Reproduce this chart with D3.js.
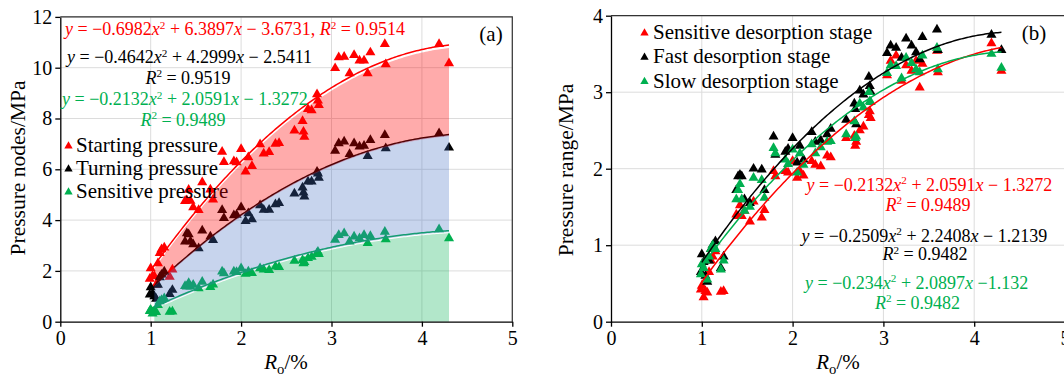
<!DOCTYPE html>
<html>
<head>
<meta charset="utf-8">
<script src="https://cdn.jsdelivr.net/npm/d3@7"></script>
<style>
  body { margin: 0; background: #fff; }
  svg { display: block; font-family: "Liberation Serif", "Times New Roman", serif; }
  text { white-space: pre; }
  .grid line { stroke: #dcdcdc; stroke-width: 1; }
  .axis text { font-size: 20px; fill: #000; }
  .axis line, .axis path { stroke: #000; stroke-width: 1.3; }
</style>
</head>
<body>
<svg id="chart" width="1064" height="376"></svg>
<script>
// vitrinite reflectance of each sample (shared by every series)
const ro = [0.99, 1.00, 1.02, 1.04, 1.06, 1.08, 1.10, 1.12, 1.15, 1.21, 1.24,
  1.38, 1.40, 1.42, 1.44, 1.47, 1.53, 1.57, 1.66, 1.69,
  1.79, 1.81, 1.92, 1.95, 2.00, 2.05, 2.08, 2.12, 2.21, 2.25, 2.31, 2.38, 2.42,
  2.59, 2.68, 2.69, 2.70, 2.74, 2.78, 2.84, 2.85, 2.86,
  3.04, 3.08, 3.14, 3.20, 3.25, 3.31, 3.36, 3.40, 3.43, 3.59, 3.60,
  4.19, 4.30];

// panel (a)
const startingP = [1.69, 2.10, 1.80, 1.80, 1.45, 2.30, 2.70, 2.85, 2.92, 1.77, 2.05,
  4.75, 4.78, 5.19, 4.76, 4.50, 4.39, 5.49, 5.20, 4.81,
  6.69, 6.28, 6.31, 6.27, 6.80, 5.91, 6.47, 6.13, 6.98, 6.62, 6.68, 7.00, 7.03,
  7.52, 7.90, 7.48, 7.28, 8.37, 8.32, 8.95, 8.71, 8.53,
  9.98, 10.41, 10.43, 9.78, 10.50, 10.28, 10.28, 9.78, 10.60, 10.93, 10.13,
  10.93, 10.17];
const turningP = [1.07, 1.35, 1.10, 1.00, 0.90, 1.45, 1.75, 1.85, 1.97, 1.09, 1.25,
  3.15, 3.48, 3.44, 3.16, 3.05, 2.89, 3.59, 3.35, 3.21,
  4.39, 4.08, 4.19, 4.21, 4.50, 3.96, 4.27, 4.03, 4.58, 4.40, 4.40, 4.62, 4.67,
  5.04, 5.28, 5.08, 4.93, 5.52, 5.52, 5.90, 5.83, 5.66,
  6.73, 7.02, 7.09, 6.60, 7.02, 6.89, 6.92, 6.52, 7.15, 7.35, 6.83,
  7.42, 6.85];
const sensitiveP = [0.42, 0.47, 0.32, 0.40, 0.38, 0.65, 0.80, 0.85, 0.92, 0.39, 0.40,
  1.40, 1.38, 1.52, 1.38, 1.45, 1.31, 1.57, 1.36, 1.46,
  1.97, 1.90, 1.97, 1.95, 2.10, 1.88, 1.97, 1.91, 2.10, 2.05, 2.03, 2.17, 2.15,
  2.40, 2.43, 2.30, 2.35, 2.50, 2.55, 2.70, 2.75, 2.66,
  3.22, 3.41, 3.48, 3.15, 3.35, 3.28, 3.41, 3.09, 3.37, 3.54, 3.24,
  3.64, 3.28];

// panel (b)
const sensitiveStage = [0.42, 0.47, 0.32, 0.40, 0.38, 0.65, 0.80, 0.85, 0.92, 0.39, 0.40,
  1.40, 1.38, 1.52, 1.38, 1.45, 1.31, 1.57, 1.36, 1.46,
  1.97, 1.90, 1.97, 1.95, 2.10, 1.88, 1.97, 1.91, 2.10, 2.05, 2.03, 2.17, 2.15,
  2.40, 2.43, 2.30, 2.35, 2.50, 2.55, 2.70, 2.75, 2.66,
  3.22, 3.41, 3.48, 3.15, 3.35, 3.28, 3.41, 3.06, 3.37, 3.54, 3.26,
  3.64, 3.28];
const fastStage = [0.65, 0.88, 0.78, 0.60, 0.52, 0.80, 0.95, 1.00, 1.05, 0.70, 0.85,
  1.72, 1.90, 1.92, 1.90, 1.60, 1.55, 2.00, 1.99, 1.72,
  2.42, 2.18, 2.22, 2.26, 2.40, 2.08, 2.30, 2.12, 2.48, 2.35, 2.37, 2.45, 2.52,
  2.64, 2.85, 2.78, 2.58, 3.02, 2.97, 3.20, 3.08, 3.00,
  3.51, 3.61, 3.58, 3.45, 3.70, 3.61, 3.52, 3.43, 3.72, 3.82, 3.55,
  3.75, 3.55];
const slowStage = [0.62, 0.75, 0.70, 0.80, 0.55, 0.85, 0.95, 1.00, 0.95, 0.68, 0.80,
  1.60, 1.72, 1.80, 1.60, 1.45, 1.50, 1.88, 1.85, 1.62,
  2.27, 2.20, 2.12, 2.06, 2.25, 1.95, 2.20, 2.05, 2.32, 2.20, 2.28, 2.35, 2.36,
  2.45, 2.62, 2.40, 2.42, 2.85, 2.80, 3.00, 2.88, 2.87,
  3.25, 3.35, 3.34, 3.18, 3.45, 3.38, 3.30, 3.26, 3.48, 3.58, 3.30,
  3.50, 3.32];

// quadratic fits printed on the chart: [a, b, c] for y = a x^2 + b x + c
const fitStarting = [-0.6982, 6.3897, -3.6731];
const fitTurning = [-0.4642, 4.2999, -2.5411];
const fitSensitive = [-0.2132, 2.0591, -1.3272];
const fitFast = [-0.2509, 2.2408, -1.2139];
const fitSlow = [-0.234, 2.0897, -1.132];
const fitRange = [1.0, 4.3];

const RED = "#ff0000", BLACK = "#000000", GREEN = "#00b050";

const svg = d3.select("#chart");
const tri = d3.symbol(d3.symbolTriangle, 44);
const triSmall = d3.symbol(d3.symbolTriangle, 30);

const xs = d3.range(fitRange[0], fitRange[1] + 1e-9, 0.02);
const fitLine = (c) => xs.map(x => [x, c[0] * x * x + c[1] * x + c[2]]);

// text with *italic*, ^superscript^ and _subscript_ pieces
function rich(g, str, x, y, color, size, anchor) {
  const t = g.append("text")
    .attr("x", x).attr("y", y)
    .attr("fill", color)
    .attr("text-anchor", anchor || "start")
    .style("font-size", size + "px");
  let shift = 0;
  str.split(/(\*[^*]+\*|\^[^^]+\^|_[^_]+_)/).filter(s => s).forEach(p => {
    const ts = t.append("tspan");
    let s = 0;
    if (p[0] == "*") { ts.style("font-style", "italic"); p = p.slice(1, -1); }
    else if (p[0] == "^") { s = -0.36 * size; ts.style("font-size", (size * 0.62) + "px"); p = p.slice(1, -1); }
    else if (p[0] == "_") { s = 0.22 * size; ts.style("font-size", (size * 0.7) + "px"); p = p.slice(1, -1); }
    ts.attr("dy", s - shift).text(p);
    shift = s;
  });
  return t;
}

function frame(g, x, y, yTicks) {
  const [x0, x1] = x.range(), [y0, y1] = y.range();
  const grid = g.append("g").attr("class", "grid");
  grid.selectAll(".gx").data([1, 2, 3, 4, 5]).join("line")
    .attr("x1", d => x(d)).attr("x2", d => x(d)).attr("y1", y0).attr("y2", y1);
  grid.selectAll(".gy").data(yTicks.slice(1)).join("line")
    .attr("x1", x0).attr("x2", x1).attr("y1", d => y(d)).attr("y2", d => y(d));
  g.append("path")
    .attr("d", `M${x0},${y1}H${x1}V${y0}`)
    .attr("fill", "none").attr("stroke", "#333").attr("stroke-width", 1.2);
}

function axes(g, x, y, yTicks) {
  const ax = g.append("g").attr("class", "axis")
    .attr("transform", `translate(0,${y.range()[0]})`)
    .call(d3.axisBottom(x).tickValues([0, 1, 2, 3, 4, 5]).tickFormat(d3.format("d"))
      .tickSize(5).tickSizeOuter(0).tickPadding(4));
  const ay = g.append("g").attr("class", "axis")
    .attr("transform", `translate(${x.range()[0]},0)`)
    .call(d3.axisLeft(y).tickValues(yTicks).tickFormat(d3.format("d"))
      .tickSize(5).tickSizeOuter(0).tickPadding(3));
  [ax, ay].forEach(a => a.attr("font-size", null).attr("font-family", null));
}

function points(g, x, y, vals, color) {
  g.append("g").selectAll("path").data(vals).join("path")
    .attr("d", tri)
    .attr("transform", (d, i) => `translate(${x(ro[i])},${y(d)})`)
    .attr("fill", color);
}

// ---------- panel (a) ----------
const xa = d3.scaleLinear().domain([0, 5]).range([60.3, 512.3]);
const ya = d3.scaleLinear().domain([0, 12]).range([321.7, 16.9]);
const ga = svg.append("g");
frame(ga, xa, ya, [0, 2, 4, 6, 8, 10, 12]);

const lineA = d3.line().x(d => xa(d[0])).y(d => ya(d[1]));
ga.append("path").attr("d", lineA(fitLine(fitStarting))).attr("fill", "none").attr("stroke", RED).attr("stroke-width", 1.5);
ga.append("path").attr("d", lineA(fitLine(fitTurning))).attr("fill", "none").attr("stroke", BLACK).attr("stroke-width", 1.5);
ga.append("path").attr("d", lineA(fitLine(fitSensitive))).attr("fill", "none").attr("stroke", GREEN).attr("stroke-width", 1.5);

points(ga, xa, ya, startingP, RED);
points(ga, xa, ya, turningP, BLACK);
points(ga, xa, ya, sensitiveP, GREEN);

const legA = [["Starting pressure", RED], ["Turning pressure", BLACK], ["Sensitive pressure", GREEN]];
legA.forEach(([name, c], i) => {
  const yy = 152 + i * 23;
  ga.append("path").attr("d", triSmall).attr("transform", `translate(68.5,${yy - 6})`).attr("fill", c);
  ga.append("text").attr("x", 76).attr("y", yy).style("font-size", "21px").text(name);
});

// shaded bands between fits, drawn over the marks like the original
const fs = fitLine(fitStarting), ft = fitLine(fitTurning), fn = fitLine(fitSensitive);
const band = d3.area().defined((d, i) => xs[i] >= 1.03).x((d, i) => xa(xs[i]));
ga.append("path")
  .attr("d", band.y0((d, i) => ya(ft[i][1]) + 1.5).y1((d, i) => ya(fs[i][1]) + 3)(xs))
  .attr("fill", RED).attr("fill-opacity", 0.33);
ga.append("path")
  .attr("d", band.y0((d, i) => ya(fn[i][1]) + 1.5).y1((d, i) => ya(ft[i][1]) + 0.5)(xs))
  .attr("fill", "#4472c4").attr("fill-opacity", 0.3);
ga.append("path")
  .attr("d", band.y0(() => ya(0)).y1((d, i) => ya(fn[i][1]) + 2.5)(xs))
  .attr("fill", GREEN).attr("fill-opacity", 0.3);

axes(ga, xa, ya, [0, 2, 4, 6, 8, 10, 12]);

rich(ga, "*y* = −0.6982*x*^2^ + 6.3897*x* − 3.6731, *R*^2^ = 0.9514", 65, 35, RED, 18);
rich(ga, "*y* = −0.4642*x*^2^ + 4.2999*x* − 2.5411", 67, 63, BLACK, 18);
rich(ga, "*R*^2^ = 0.9519", 188, 83.5, BLACK, 18, "middle");
rich(ga, "*y* = −0.2132*x*^2^ + 2.0591*x* − 1.3272", 62, 105, GREEN, 18);
rich(ga, "*R*^2^ = 0.9489", 183, 125.5, GREEN, 18, "middle");
ga.append("text").attr("x", 491).attr("y", 41).attr("text-anchor", "middle").style("font-size", "21px").text("(a)");

ga.append("text").attr("transform", "translate(25,168) rotate(-90)")
  .attr("text-anchor", "middle").style("font-size", "21.5px").text("Pressure nodes/MPa");
rich(ga, "*R*_o_/%", 286, 369, BLACK, 21, "middle");

// ---------- panel (b) ----------
const xb = d3.scaleLinear().domain([0, 5]).range([611, 1065]);
const yb = d3.scaleLinear().domain([0, 4]).range([321.7, 15.7]);
const gb = svg.append("g");
frame(gb, xb, yb, [0, 1, 2, 3, 4]);

points(gb, xb, yb, sensitiveStage, RED);
points(gb, xb, yb, fastStage, BLACK);
points(gb, xb, yb, slowStage, GREEN);

const lineB = d3.line().x(d => xb(d[0])).y(d => yb(d[1]));
[[fitSensitive, RED], [fitFast, BLACK], [fitSlow, GREEN]].forEach(([c, col]) => {
  gb.append("path").attr("d", lineB(fitLine(c))).attr("fill", "none").attr("stroke", col).attr("stroke-width", 1.5);
});

axes(gb, xb, yb, [0, 1, 2, 3, 4]);

const legB = [["Sensitive desorption stage", RED], ["Fast desorption stage", BLACK], ["Slow desorption stage", GREEN]];
legB.forEach(([name, c], i) => {
  const yy = 39 + i * 24.3;
  gb.append("path").attr("d", triSmall).attr("transform", `translate(644.5,${yy - 6})`).attr("fill", c);
  gb.append("text").attr("x", 653).attr("y", yy).style("font-size", "21px").text(name);
});
gb.append("text").attr("x", 1034).attr("y", 40).attr("text-anchor", "middle").style("font-size", "21px").text("(b)");

rich(gb, "*y* = −0.2132*x*^2^ + 2.0591*x* − 1.3272", 806.5, 190.5, RED, 18);
rich(gb, "*R*^2^ = 0.9489", 928, 210.5, RED, 18, "middle");
rich(gb, "*y* = −0.2509*x*^2^ + 2.2408*x* − 1.2139", 801.5, 241.5, BLACK, 18);
rich(gb, "*R*^2^ = 0.9482", 925, 260, BLACK, 18, "middle");
rich(gb, "*y* = −0.234*x*^2^ + 2.0897*x* −1.132", 805, 288.5, GREEN, 18);
rich(gb, "*R*^2^ = 0.9482", 917.5, 308.5, GREEN, 18, "middle");

gb.append("text").attr("transform", "translate(573,170) rotate(-90)")
  .attr("text-anchor", "middle").style("font-size", "21.5px").text("Pressure range/MPa");
rich(gb, "*R*_o_/%", 838, 369, BLACK, 21, "middle");
</script>
</body>
</html>
